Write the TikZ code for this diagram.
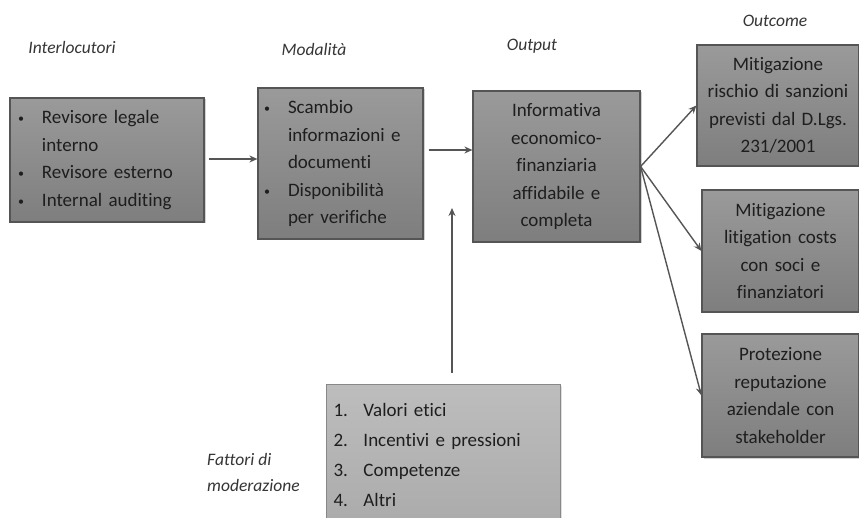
\documentclass[tikz,border=0pt]{standalone}
\usepackage{fontspec}
\setmainfont[Ligatures=NoCommon]{Carlito}
\usetikzlibrary{arrows.meta,shadows}
\definecolor{txt}{HTML}{1E1E1E}
\definecolor{boxtop}{HTML}{9A9A9A}
\definecolor{boxbot}{HTML}{7E7E7E}
\definecolor{boxline}{HTML}{555555}
\definecolor{lighttop}{HTML}{BDBDBD}
\definecolor{lightbot}{HTML}{ABABAB}
\definecolor{arrcol}{HTML}{555555}
\tikzset{
  gbox/.style={draw=boxline, line width=1.2pt, top color=boxtop, bottom color=boxbot,
    text=txt, font=\fontsize{19}{27.5}\selectfont,
    drop shadow={shadow xshift=1.5pt, shadow yshift=-1.5pt, opacity=0.35},
    inner ysep=0pt},
  lbox/.style={draw=boxline!70, line width=1pt, top color=lighttop, bottom color=lightbot,
    text=txt, font=\fontsize{19}{30}\selectfont, inner ysep=0pt,
    drop shadow={shadow xshift=1.5pt, shadow yshift=-1.5pt, opacity=0.25}},
  lab/.style={text=txt!90, font=\fontsize{17.5}{26}\selectfont\itshape, inner sep=0pt},
  arr/.style={draw=arrcol, line width=1.4pt, -{Stealth[length=8pt,width=7pt]}}
}
\newcommand{\bl}{\makebox[24pt][l]{\raisebox{1pt}{\fontsize{12}{12}\selectfont•}}}
\newcommand{\nb}{\hspace*{24pt}}
\begin{document}
\begin{tikzpicture}[x=1pt,y=-1pt]
\useasboundingbox[fill=white] (0,0) rectangle (859,518);

% labels
\node[lab] (l1) at (72,47) {Interlocutori};
\node[lab] (l2) at (314,49) {Modalità};
\node[lab] (l3) at (532,46) {Output};
\node[lab] (l4) at (775,21) {Outcome};
\node[lab, anchor=north west, align=left] (l5) at (207,453) {Fattori di\\moderazione};

% boxes
\node[gbox, text width=178pt, inner xsep=8pt, minimum height=124pt, align=left] (inter) at (107,160)
 {\bl Revisore legale\\\nb interno\\\bl Revisore esterno\\\bl Internal auditing};
\node[gbox, text width=153pt, inner xsep=6pt, minimum height=151pt, align=left] (modal) at (340.5,163.5)
 {\bl Scambio\\\nb informazioni e\\\nb documenti\\\bl Disponibilità\\\nb per verifiche};
\node[gbox, text width=159pt, inner xsep=4pt, minimum height=151pt, align=center] (out) at (556.5,166.5)
 {Informativa\\economico-\\finanziaria\\affidabile e\\completa};
\node[gbox, text width=156pt, inner xsep=3pt, minimum height=121pt, align=center] (oc1) at (778,105.5)
 {Mitigazione\\rischio di sanzioni\\previsti dal D.Lgs.\\231/2001};
\node[gbox, text width=151pt, inner xsep=3pt, minimum height=122pt, align=center] (oc2) at (780.5,251)
 {Mitigazione\\litigation costs\\con soci e\\finanziatori};
\node[gbox, text width=151pt, inner xsep=3pt, minimum height=123pt, align=center] (oc3) at (780.5,395.5)
 {Protezione\\reputazione\\aziendale con\\stakeholder};
\node[lbox, text width=220pt, inner xsep=7pt, minimum height=141pt, align=left, anchor=north west] (fact) at (326,384)
 {\makebox[30pt][l]{1.}Valori etici\\\makebox[30pt][l]{2.}Incentivi e pressioni\\\makebox[30pt][l]{3.}Competenze\\\makebox[30pt][l]{4.}Altri\\[12pt]};

% connectors
\coordinate (a1) at (0,159);
\coordinate (a2) at (0,150);
\coordinate (upx) at (452,0);
\coordinate (uptip) at (452,208);
\draw[arr, shorten <=4pt] (inter.east |- a1) -- (modal.west |- a1);
\draw[arr, shorten <=5pt] (modal.east |- a2) -- (out.west |- a2);
\draw[arr, shorten <=11pt] (fact.north -| upx) -- (uptip);
\draw[arr] (out.east) -- (oc1.west);
\draw[arr] (out.east) -- (oc2.west);
\draw[arr] (out.east) -- (oc3.west);
\end{tikzpicture}
\end{document}
